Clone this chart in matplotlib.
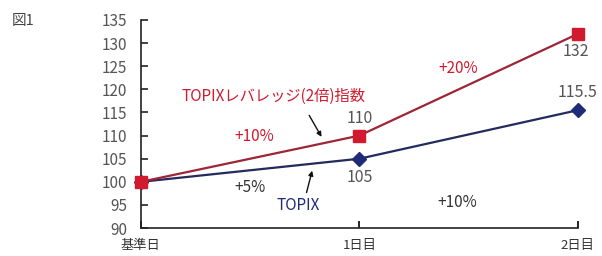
import matplotlib
matplotlib.use("Agg")
import matplotlib.pyplot as plt

plt.rcParams['font.family'] = ['Noto Sans CJK JP', 'DejaVu Sans']

categories = ["基準日", "1日目", "2日目"]
topix = [100, 105, 115.5]
leverage = [100, 110, 132]
yticks = [90, 95, 100, 105, 110, 115, 120, 125, 130, 135]

red = "#d11a2e"
navy = "#1f2a78"
grey = "#555555"

fig = plt.figure(figsize=(6.02, 2.56), dpi=100)
ax = fig.add_axes([0.234, 0.109, 0.726, 0.813])
x = list(range(len(categories)))

ax.plot(x, topix, color="#232a5c", lw=1.6, marker="D", ms=7, mfc=navy, mec=navy, clip_on=False, zorder=3)
ax.plot(x, leverage, color="#9e2535", lw=1.6, marker="s", ms=9, mfc=red, mec=red, clip_on=False, zorder=4)

ax.set_xlim(0, 2)
ax.set_ylim(90, 135)
ax.set_yticks(yticks)
ax.set_xticks(x)
ax.set_xticklabels(categories, fontsize=9.5, color="#333333")
ax.tick_params(axis="y", direction="in", length=5, width=1.2, labelsize=11, colors="#222222", labelcolor=grey, pad=10)
ax.tick_params(axis="x", direction="in", length=5, width=1.2, pad=8)
for s in ["top", "right"]:
    ax.spines[s].set_visible(False)
for s in ["left", "bottom"]:
    ax.spines[s].set_linewidth(1.2)
    ax.spines[s].set_color("#222222")

# value labels
ax.text(1, 113.8, "110", ha="center", va="center", fontsize=11.5, color=grey)
ax.text(1, 101.0, "105", ha="center", va="center", fontsize=11.5, color=grey)
ax.text(1.99, 128.1, "132", ha="center", va="center", fontsize=11.5, color=grey)
ax.text(2.0, 119.4, "115.5", ha="center", va="center", fontsize=11.5, color=grey)

# percent labels
ax.text(0.52, 109.7, "+10%", ha="center", va="center", fontsize=11, color=red)
ax.text(1.45, 124.5, "+20%", ha="center", va="center", fontsize=11, color=red)
ax.text(0.50, 98.8, "+5%", ha="center", va="center", fontsize=11, color="#333333")
ax.text(1.45, 95.5, "+10%", ha="center", va="center", fontsize=11, color="#333333")

# series names with arrows
ax.text(0.188, 118.4, "TOPIXレバレッジ(2倍)指数", ha="left", va="center", fontsize=11, color=red)
ax.annotate("", xy=(0.833, 109.2), xytext=(0.764, 114.9),
            arrowprops=dict(arrowstyle="-|>", color="#111111", lw=1.0, mutation_scale=7))
ax.text(0.72, 94.8, "TOPIX", ha="center", va="center", fontsize=11, color=navy)
ax.annotate("", xy=(0.787, 103.0), xytext=(0.755, 97.1),
            arrowprops=dict(arrowstyle="-|>", color="#111111", lw=1.0, mutation_scale=7))

fig.text(0.02, 0.918, "図1", fontsize=10.5, color="#444444", ha="left", va="center")

fig.savefig("out.png", dpi=100)
